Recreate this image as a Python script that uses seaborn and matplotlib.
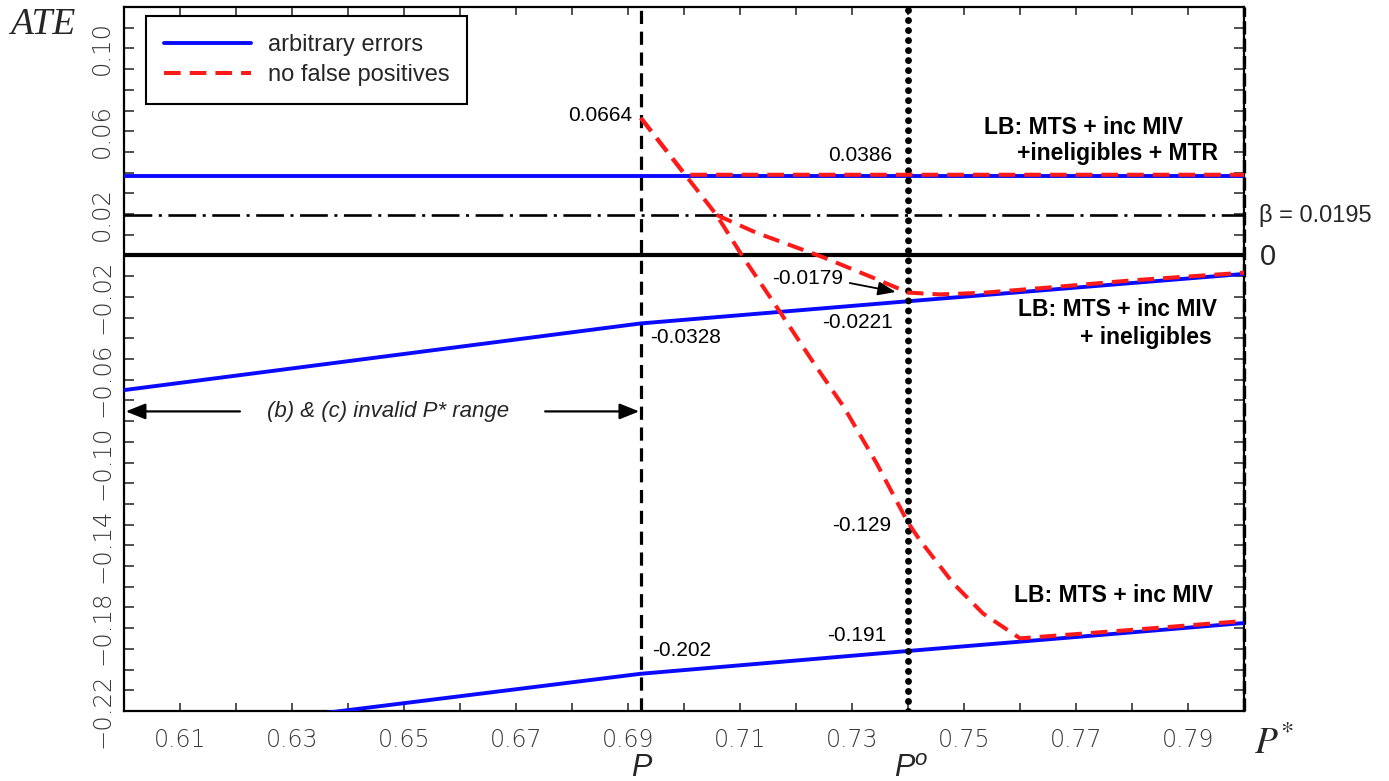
import numpy as np
import pandas as pd
import matplotlib
matplotlib.use("Agg")
import matplotlib.pyplot as plt
import seaborn as sns
from matplotlib.lines import Line2D
from matplotlib.ticker import MultipleLocator

# ---------------------------------------------------------
# data
# ---------------------------------------------------------
P_VAL = 0.6923      # P
P_O = 0.74          # P^o
BETA = 0.0195

# arbitrary errors (blue)
blue_top_x = [0.60, 0.80]
blue_top_y = [0.0386, 0.0386]
blue_mid_x = [0.60, 0.6923, 0.74, 0.80]
blue_mid_y = [-0.0650, -0.0328, -0.0221, -0.0089]
blue_low_x = [0.60, 0.6923, 0.74, 0.80]
blue_low_y = [-0.2330, -0.2020, -0.1910, -0.1775]

# no false positives (red)
red_top_x = [0.6923, 0.7002, 0.80]
red_top_y = [0.0664, 0.0390, 0.0390]
red_mid_x = [0.7058, 0.7129, 0.7248, 0.7340, 0.7400, 0.7457, 0.7534, 0.7654, 0.7800, 0.8000]
red_mid_y = [0.0196, 0.0110, -0.0008, -0.0110, -0.0179, -0.0188, -0.0180, -0.0154, -0.0120, -0.0083]
red_low_x = [0.6923, 0.7058, 0.7105, 0.7171, 0.7234, 0.7285, 0.7344, 0.7400,
             0.7421, 0.7481, 0.7534, 0.7600, 0.7800, 0.8000]
red_low_y = [0.0664, 0.0196, -0.0006, -0.0271, -0.0529, -0.0730, -0.1004, -0.1290,
             -0.1374, -0.1584, -0.1729, -0.1849, -0.1808, -0.1765]

xtick_pos = [0.61, 0.63, 0.65, 0.67, 0.69, 0.71, 0.73, 0.75, 0.77, 0.79]
xtick_lab = ['0.61', '0.63', '0.65', '0.67', '0.69', '0.71', '0.73', '0.75', '0.77', '0.79']
ytick_pos = [0.10, 0.06, 0.02, -0.02, -0.06, -0.10, -0.14, -0.18, -0.22]
ytick_lab = ['0.10', '0.06', '0.02', '\u22120.02', '\u22120.06', '\u22120.10',
             '\u22120.14', '\u22120.18', '\u22120.22']

# ---------------------------------------------------------
# style
# ---------------------------------------------------------
sns.set_theme(style='ticks')
plt.rcParams['font.family'] = ['Liberation Sans', 'DejaVu Sans']
plt.rcParams['lines.scale_dashes'] = False
plt.rcParams['mathtext.fontset'] = 'stix'

BLUE = '#0a0aff'
RED = '#ff1a1a'
BLUE_LW = 2.8
RED_LW = 2.9
RED_LS = (0, (12, 6.5))

fig = plt.figure(figsize=(13.89, 7.81), dpi=100)
ax = fig.add_axes([0.0893, 0.0896, 0.8063, 0.9014])
ax.set_xlim(0.60, 0.80)
ax.set_ylim(-0.22, 0.12)

# reference lines
ax.axhline(0, color='black', lw=3.0, zorder=2)
ax.axhline(BETA, color='black', lw=1.9, linestyle=(0, (20, 4.7, 2.2, 4.7)), zorder=2)
ax.axvline(P_VAL, color='black', lw=2.3, linestyle=(0, (9.5, 5.5)), zorder=2)
ax.axvline(0.80, color='black', lw=2.4, linestyle=(0, (9.5, 3)), zorder=2, clip_on=False)

# curves
def draw(xs, ys, color, lw, ls, z):
    df = pd.DataFrame({'x': xs, 'y': ys})
    sns.lineplot(data=df, x='x', y='y', ax=ax, color=color, lw=lw, linestyle=ls,
                 estimator=None, sort=False, errorbar=None, zorder=z)

for xs, ys in [(blue_top_x, blue_top_y), (blue_mid_x, blue_mid_y), (blue_low_x, blue_low_y)]:
    draw(xs, ys, BLUE, BLUE_LW, '-', 3)

# P^o dotted
ax.axvline(P_O, color='black', lw=5, linestyle=(0, (0.01, 7.2)),
           dash_capstyle='round', zorder=4)

for xs, ys in [(red_top_x, red_top_y), (red_mid_x, red_mid_y), (red_low_x, red_low_y)]:
    draw(xs, ys, RED, RED_LW, RED_LS, 5)

# ---------------------------------------------------------
# axes / ticks
# ---------------------------------------------------------
ax.set_xlabel('')
ax.set_ylabel('')
for s in ax.spines.values():
    s.set_linewidth(1.6)
    s.set_color('black')
ax.set_xticks(xtick_pos, labels=xtick_lab)
ax.set_yticks(ytick_pos, labels=ytick_lab)
ax.xaxis.set_minor_locator(MultipleLocator(0.01))
ax.yaxis.set_minor_locator(MultipleLocator(0.01))
ax.tick_params(axis='both', which='both', direction='in', top=True, right=True,
               width=1.1, color='#222222')
ax.tick_params(axis='x', which='both', length=6, pad=12)
ax.tick_params(axis='y', which='both', length=7.5, pad=7)
for lab in ax.get_xticklabels():
    lab.set_fontfamily('DejaVu Sans')
    lab.set_fontsize(17)
    lab.set_fontweight(200)
    lab.set_color('#3a3a3a')
for lab in ax.get_yticklabels():
    lab.set_fontfamily('DejaVu Sans')
    lab.set_fontsize(17.5)
    lab.set_fontweight(200)
    lab.set_color('#3a3a3a')
    lab.set_rotation(90)
    lab.set_va('center')

# ---------------------------------------------------------
# legend
# ---------------------------------------------------------
handles = [Line2D([], [], color=BLUE, lw=BLUE_LW),
           Line2D([], [], color=RED, lw=RED_LW, linestyle=RED_LS)]
leg = ax.legend(handles, ['arbitrary errors', 'no false positives'],
                loc='upper left', bbox_to_anchor=(0.0196, 0.987), borderaxespad=0,
                fontsize=17, handlelength=3.7, handletextpad=0.7, labelspacing=0.35,
                borderpad=0.75, fancybox=False, framealpha=1, edgecolor='black')
leg.get_frame().set_linewidth(1.5)
leg.set_zorder(10)

# ---------------------------------------------------------
# annotations
# ---------------------------------------------------------
num = dict(fontsize=15, color='black', va='center')
ax.text(0.6907, 0.0674, '0.0664', ha='right', **num)
ax.text(0.7314, 0.0485, '0.0386', ha='center', **num)
ax.text(0.7221, -0.0109, '-0.0179', ha='center', **num)
ax.text(0.7309, -0.0326, '-0.0221', ha='center', **num)
ax.text(0.6939, -0.0398, '-0.0328', ha='left', **num)
ax.text(0.7318, -0.1302, '-0.129', ha='center', **num)
ax.text(0.7309, -0.1833, '-0.191', ha='center', **num)
ax.text(0.6943, -0.1910, '-0.202', ha='left', **num)

ax.annotate('', xy=(0.7378, -0.0176), xytext=(0.7296, -0.0133),
            arrowprops=dict(arrowstyle='-|>,head_length=0.9,head_width=0.35',
                            color='black', lw=1.3, shrinkA=0, shrinkB=0), zorder=6)

bold = dict(fontsize=16.5, fontweight='bold', color='black', va='center', ha='right')
ax.text(0.7891, 0.0616, 'LB: MTS + inc MIV', **bold)
ax.text(0.7954, 0.0495, '+ineligibles + MTR', **bold)
ax.text(0.7952, -0.0263, 'LB: MTS + inc MIV', **bold)
ax.text(0.7943, -0.0394, '+ ineligibles', **bold)
ax.text(0.7945, -0.1640, 'LB: MTS + inc MIV', **bold)

ax.text(0.8027, 0.0191, '\u03b2 = 0.0195', fontsize=17, va='center', ha='left',
        clip_on=False, family=['Liberation Sans', 'DejaVu Sans'])
ax.text(0.8029, -0.0007, '0', fontsize=21, va='center', ha='left', clip_on=False)

# invalid range arrows
ax.text(0.6471, -0.0753, '(b) & (c) invalid P* range', fontsize=16, style='italic',
        ha='center', va='center')
arr = dict(arrowstyle='-|>,head_length=1.0,head_width=0.4', color='black', lw=1.6,
           shrinkA=0, shrinkB=0)
ax.annotate('', xy=(0.6003, -0.0753), xytext=(0.6207, -0.0753), arrowprops=arr)
ax.annotate('', xy=(0.6920, -0.0753), xytext=(0.6752, -0.0753), arrowprops=arr)

# axis names
fig.text(0.007, 0.968, 'ATE', fontsize=27, style='italic', family='Liberation Serif',
         ha='left', va='center')
fig.text(0.9030, 0.048, r'$P^{*}$', fontsize=27, ha='left', va='center')
ax.text(P_VAL, -0.2475, 'P', fontsize=22, style='italic', ha='center', va='center',
        clip_on=False)
ax.text(P_O - 0.0006, -0.2475, 'P', fontsize=22, style='italic', ha='center', va='center',
        clip_on=False)
ax.text(P_O + 0.0012, -0.2435, 'o', fontsize=16, style='italic', ha='left', va='center',
        clip_on=False)

fig.savefig('out.png', dpi=100)
